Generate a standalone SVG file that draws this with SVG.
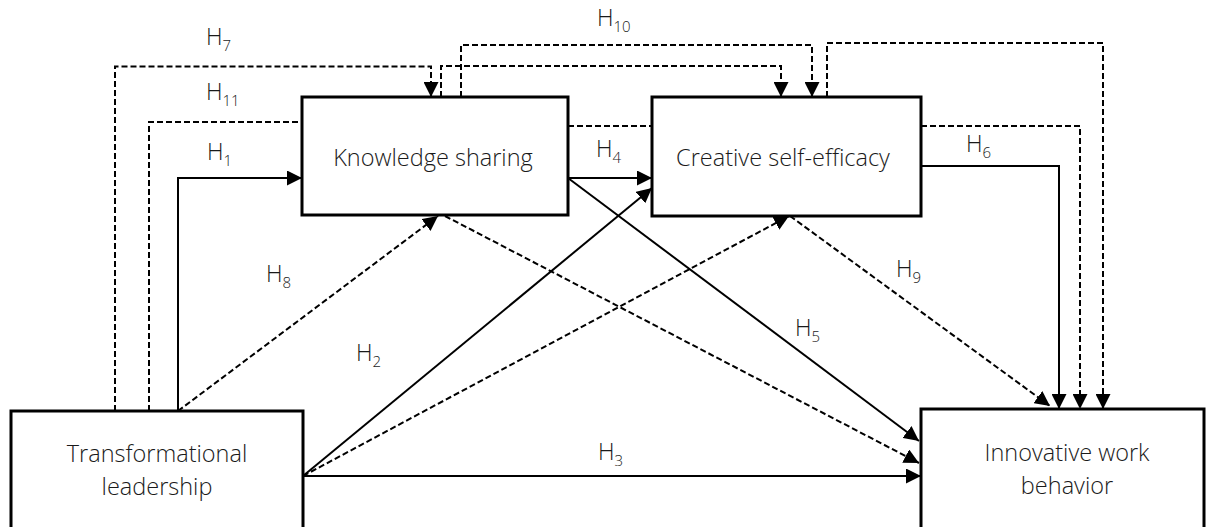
<svg xmlns="http://www.w3.org/2000/svg" width="1206" height="527" viewBox="0 0 1206 527">
<defs>
<marker id="ah" markerUnits="userSpaceOnUse" markerWidth="15" markerHeight="15" refX="15" refY="7.5" orient="auto" viewBox="0 0 15 15">
<path d="M0,0 L15,7.5 L0,15 z" fill="#000"/>
</marker>
<style>
.box{fill:#fff;stroke:#000;stroke-width:3}
.t{font-family:"Open Sans","Liberation Sans",sans-serif;font-weight:300;font-size:23.5px;fill:#1a1a1a;text-anchor:middle}
.lb{font-family:"Open Sans","Liberation Sans",sans-serif;font-weight:300;font-size:23px;fill:#1a1a1a}
.sub{font-size:15px}
.c{fill:none;stroke:#000;stroke-width:2}
.d{stroke-dasharray:6,3}
.a{marker-end:url(#ah)}
</style>
</defs>
<rect width="1206" height="527" fill="#fff"/>
<g id="connectors">
<path class="c d a" d="M115,411 V66.5 H431 V97"/>
<path class="c d" d="M149,411 V122 H302"/>
<path class="c a" d="M178,411 V178 H302"/>
<path class="c d a" d="M178,411 L438,216"/>
<path class="c d a" d="M441,97 V66 H781 V97"/>
<path class="c d a" d="M461,97 V45 H812 V97"/>
<path class="c d a" d="M827,97 V43 H1103 V409"/>
<path class="c d" d="M568,126 H652"/>
<path class="c d a" d="M921,126 H1080 V409"/>
<path class="c a" d="M921,166 H1059 V409"/>
<path class="c d a" d="M790,216 L1050,406"/>
<path class="c a" d="M568,178 H652"/>
<path class="c a" d="M568,178 L919,441"/>
<path class="c d a" d="M445,216 L919,463"/>
<path class="c a" d="M303,476 L652,188"/>
<path class="c d a" d="M303,476 L789,216"/>
<path class="c a" d="M303,476 H921"/>
</g>
<g id="labels">
<text class="lb" x="206" y="45">H<tspan class="sub" dy="6">7</tspan></text>
<text class="lb" x="206" y="100">H<tspan class="sub" dy="6">11</tspan></text>
<text class="lb" x="207" y="160">H<tspan class="sub" dy="6">1</tspan></text>
<text class="lb" x="266" y="282">H<tspan class="sub" dy="6">8</tspan></text>
<text class="lb" x="356" y="361">H<tspan class="sub" dy="6">2</tspan></text>
<text class="lb" x="598" y="460">H<tspan class="sub" dy="6">3</tspan></text>
<text class="lb" x="596" y="157">H<tspan class="sub" dy="6">4</tspan></text>
<text class="lb" x="795" y="336">H<tspan class="sub" dy="6">5</tspan></text>
<text class="lb" x="966" y="152">H<tspan class="sub" dy="6">6</tspan></text>
<text class="lb" x="896" y="277">H<tspan class="sub" dy="6">9</tspan></text>
<text class="lb" x="597" y="26">H<tspan class="sub" dy="6">10</tspan></text>
</g>
<g id="node-ks">
<rect class="box" x="302" y="97" width="266" height="118"/>
<text class="t" x="433" y="166">Knowledge sharing</text>
</g>
<g id="node-cse">
<rect class="box" x="652" y="97" width="269" height="119"/>
<text class="t" x="783" y="166">Creative self-efficacy</text>
</g>
<g id="node-tl">
<rect class="box" x="11" y="411" width="292" height="130"/>
<text class="t" x="157" y="462">Transformational</text>
<text class="t" x="157" y="495">leadership</text>
</g>
<g id="node-iwb">
<rect class="box" x="921" y="409" width="283" height="130"/>
<text class="t" x="1067" y="461">Innovative work</text>
<text class="t" x="1067" y="494">behavior</text>
</g>
</svg>
